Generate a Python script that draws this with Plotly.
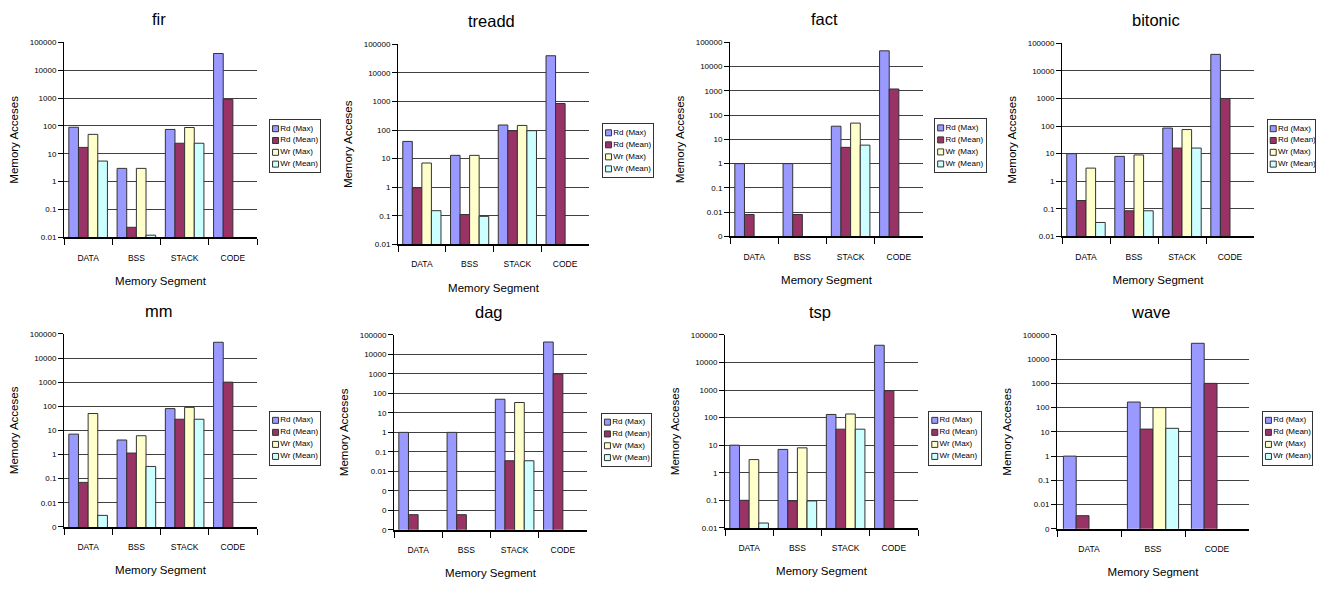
import math
import plotly.graph_objects as go

# ---------------- data ----------------
SERIES = ["Rd (Max)", "Rd (Mean)", "Wr (Max)", "Wr (Mean)"]
COLORS = ["#9999FF", "#993366", "#FFFFCC", "#CCFFFF"]

CATEGORIES = ["DATA", "BSS", "STACK", "CODE"]
WAVE_CATEGORIES = ["DATA", "BSS", "CODE"]

PANEL_TITLES = ["fir", "treadd", "fact", "bitonic", "mm", "dag", "tsp", "wave"]

fir_rd_max = [90, 3, 75, 40000]
fir_rd_mean = [17, 0.023, 24, 900]
fir_wr_max = [50, 3, 88, None]
fir_wr_mean = [5.5, 0.012, 24, None]

treadd_rd_max = [40, 13, 150, 40000]
treadd_rd_mean = [0.95, 0.11, 95, 850]
treadd_wr_max = [7, 13, 145, None]
treadd_wr_mean = [0.15, 0.095, 95, None]

fact_rd_max = [1, 1, 35, 45000]
fact_rd_mean = [0.008, 0.008, 4.7, 1200]
fact_wr_max = [None, None, 47, None]
fact_wr_mean = [None, None, 5.8, None]

bitonic_rd_max = [10, 8, 85, 40000]
bitonic_rd_mean = [0.2, 0.085, 16, 1000]
bitonic_wr_max = [3, 9, 75, None]
bitonic_wr_mean = [0.032, 0.085, 16, None]

mm_rd_max = [7, 4, 80, 45000]
mm_rd_mean = [0.07, 1.15, 29, 1000]
mm_wr_max = [50, 6, 90, None]
mm_wr_mean = [0.003, 0.32, 29, None]

dag_rd_max = [1, 1, 50, 43000]
dag_rd_mean = [0.00006, 0.00006, 0.035, 1000]
dag_wr_max = [None, None, 34, None]
dag_wr_mean = [None, None, 0.035, None]

tsp_rd_max = [10, 7, 130, 42000]
tsp_rd_mean = [0.1, 0.095, 38, 950]
tsp_wr_max = [3, 8, 135, None]
tsp_wr_mean = [0.015, 0.095, 38, None]

wave_rd_max = [1, 170, 45000]
wave_rd_mean = [0.0035, 13, 1000]
wave_wr_max = [None, 100, None]
wave_wr_mean = [None, 14, None]

TICKS_7 = [0.01, 0.1, 1, 10, 100, 1000, 10000, 100000]
TICKTEXT_7 = ["0.01", "0.1", "1", "10", "100", "1000", "10000", "100000"]
TICKS_8 = [0.001, 0.01, 0.1, 1, 10, 100, 1000, 10000, 100000]
TICKTEXT_8 = ["0", "0.01", "0.1", "1", "10", "100", "1000", "10000", "100000"]
TICKS_10 = [0.00001, 0.0001, 0.001, 0.01, 0.1, 1, 10, 100, 1000, 10000, 100000]
TICKTEXT_10 = ["0", "0", "0", "0.01", "0.1", "1", "10", "100", "1000", "10000", "100000"]

panels = [
    (CATEGORIES, [fir_rd_max, fir_rd_mean, fir_wr_max, fir_wr_mean], TICKS_7, TICKTEXT_7),
    (CATEGORIES, [treadd_rd_max, treadd_rd_mean, treadd_wr_max, treadd_wr_mean], TICKS_7, TICKTEXT_7),
    (CATEGORIES, [fact_rd_max, fact_rd_mean, fact_wr_max, fact_wr_mean], TICKS_8, TICKTEXT_8),
    (CATEGORIES, [bitonic_rd_max, bitonic_rd_mean, bitonic_wr_max, bitonic_wr_mean], TICKS_7, TICKTEXT_7),
    (CATEGORIES, [mm_rd_max, mm_rd_mean, mm_wr_max, mm_wr_mean], TICKS_8, TICKTEXT_8),
    (CATEGORIES, [dag_rd_max, dag_rd_mean, dag_wr_max, dag_wr_mean], TICKS_10, TICKTEXT_10),
    (CATEGORIES, [tsp_rd_max, tsp_rd_mean, tsp_wr_max, tsp_wr_mean], TICKS_7, TICKTEXT_7),
    (WAVE_CATEGORIES, [wave_rd_max, wave_rd_mean, wave_wr_max, wave_wr_mean], TICKS_8, TICKTEXT_8),
]

# ---------------- layout (pixel boxes) ----------------
W, H = 1326, 590
PLOT_BOXES = [  # x0, x1, y0, y1 (pixels from top-left)
    (64, 257, 39, 237),
    (398, 589, 41, 244),
    (730, 923, 39, 236),
    (1062, 1254, 40, 236),
    (64, 257, 335, 531),
    (394, 587, 336, 534),
    (725, 918, 336, 532),
    (1057, 1249, 336, 533),
]
LEGEND_BOXES = [
    (270, 320, 118, 171),
    (603, 653, 122, 176),
    (935, 986, 117, 171),
    (1268, 1315, 118, 171),
    (270, 320, 414, 468),
    (602, 651, 416, 469),
    (929, 981, 414, 468),
    (1263, 1312, 414, 468),
]

FONT = "Liberation Sans, Arial, sans-serif"


def xdom(b):
    return [b[0] / W, b[1] / W]


def ydom(b):
    return [1 - b[3] / H, 1 - b[2] / H]


def sfx(n):
    return "" if n == 1 else str(n)


fig = go.Figure()
layout = dict(
    width=W, height=H,
    margin=dict(l=0, r=0, t=0, b=0),
    paper_bgcolor="white", plot_bgcolor="white",
    font=dict(family=FONT, color="black"),
    barmode="group", bargap=0.2, bargroupgap=0.0,
    showlegend=False,
    annotations=[],
)

for p, (cats, series_vals, tvals, ttext) in enumerate(panels):
    n = p + 1
    k = sfx(n)
    for s, vals in enumerate(series_vals):
        fig.add_trace(go.Bar(
            x=cats, y=vals, name=SERIES[s],
            marker=dict(color=COLORS[s], line=dict(color="#333333", width=1)),
            xaxis=f"x{k}", yaxis=f"y{k}", showlegend=False,
        ))
    box = PLOT_BOXES[p]
    layout[f"xaxis{k}"] = dict(
        domain=xdom(box), anchor=f"y{k}", type="category",
        showline=True, linecolor="black", linewidth=2,
        ticks="outside", tickson="boundaries", ticklen=6, tickcolor="black", tickwidth=1,
        showgrid=False, zeroline=False,
        tickfont=dict(size=8.5), ticklabelstandoff=11,
        title=dict(text="Memory Segment", font=dict(size=11.5), standoff=15),
        fixedrange=True,
    )
    layout[f"yaxis{k}"] = dict(
        domain=ydom(box), anchor=f"x{k}", type="log",
        range=[math.log10(tvals[0]), math.log10(tvals[-1])],
        tickmode="array", tickvals=tvals, ticktext=ttext,
        showline=True, linecolor="black", linewidth=1,
        ticks="outside", ticklen=5, tickcolor="black", tickwidth=1,
        showgrid=True, gridcolor="#404040", gridwidth=1, zeroline=False,
        tickfont=dict(size=8),
        title=dict(text="Memory Acceses", font=dict(size=11.5), standoff=8),
        fixedrange=True,
    )
    layout["annotations"].append(dict(
        text=PANEL_TITLES[p], xref=f"x{k} domain", yref=f"y{k} domain",
        x=0.49, y=1, xanchor="center", yanchor="bottom", yshift=12,
        showarrow=False, font=dict(size=16.5, family=FONT),
    ))

    # legend as a small subplot
    m = str(8 + n)
    lb = LEGEND_BOXES[p]
    idx = list(range(len(SERIES)))
    fig.add_trace(go.Scatter(
        x=[0] * len(SERIES), y=idx, mode="markers+text",
        text=SERIES, textposition="middle right",
        textfont=dict(size=8, family=FONT, color="black"),
        marker=dict(symbol="square", size=6, color=COLORS,
                    line=dict(color="#333333", width=1)),
        xaxis=f"x{m}", yaxis=f"y{m}", showlegend=False, hoverinfo="skip",
        cliponaxis=False,
    ))
    layout[f"xaxis{m}"] = dict(
        domain=xdom(lb), anchor=f"y{m}", range=[-1, 8],
        showline=True, mirror=True, linecolor="#333333", linewidth=1,
        showgrid=False, zeroline=False, showticklabels=False, ticks="",
        fixedrange=True,
    )
    layout[f"yaxis{m}"] = dict(
        domain=ydom(lb), anchor=f"x{m}", range=[3.7, -0.72],
        showline=True, mirror=True, linecolor="#333333", linewidth=1,
        showgrid=False, zeroline=False, showticklabels=False, ticks="",
        fixedrange=True,
    )

fig.update_layout(**layout)
fig.write_html(
    "out.html",
    config={"displayModeBar": False},
    post_script="document.body.style.margin='0';document.body.style.overflow='hidden';",
)
